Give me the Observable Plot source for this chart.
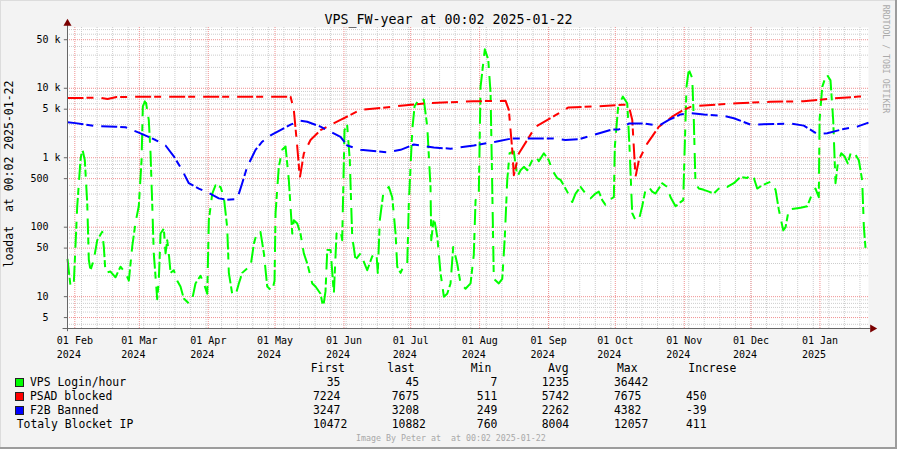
<!DOCTYPE html>
<html><head><meta charset="utf-8">
<script src="https://cdn.jsdelivr.net/npm/d3@7"></script>
<script src="https://cdn.jsdelivr.net/npm/@observablehq/plot@0.6"></script>
<style>
html,body{margin:0;padding:0;background:#f3f3f3;}
#wrap{position:relative;width:897px;height:449px;background:#f3f3f3;overflow:hidden;font-family:"DejaVu Sans Mono",monospace;box-shadow:inset -2px -2px 0 #9c9c9c, inset 1px 1px 0 #dcdcdc;}
#chart{position:absolute;left:0;top:0;}
.t{position:absolute;white-space:pre;line-height:1;color:#000;}
</style></head><body><div id="wrap"></div>
<script>
// ---------- data ----------
const title = "VPS_FW-year at 00:02 2025-01-22";
const yLabel = "loadat  at 00:02 2025-01-22";
const sideText = "RRDTOOL / TOBI OETIKER";
const footer = "Image By Peter at  at 00:02 2025-01-22";

const xStartStr = "2024-01-28T17";
const xEndStr = "2025-01-22T20";

const loginDates = ["2024-01-28T17","2024-01-30T02","2024-01-31T13","2024-02-02T02","2024-02-03T13","2024-02-04T08","2024-02-05T12","2024-02-06T14","2024-02-07T07","2024-02-08T01","2024-02-09T13","2024-02-11T02","2024-02-13T08","2024-02-14T01","2024-02-14T19","2024-02-17T01","2024-02-19T07","2024-02-21T13","2024-02-23T19","2024-02-25T07","2024-02-26T19","2024-02-28T07","2024-02-29T18","2024-03-02T00","2024-03-02T14","2024-03-03T19","2024-03-05T06","2024-03-06T01","2024-03-06T19","2024-03-07T12","2024-03-09T01","2024-03-09T18","2024-03-10T13","2024-03-12T00","2024-03-12T19","2024-03-13T13","2024-03-14T06","2024-03-15T01","2024-03-16T12","2024-03-18T01","2024-03-19T12","2024-03-21T00","2024-03-23T06","2024-03-24T19","2024-03-26T06","2024-03-28T12","2024-03-30T00","2024-03-31T13","2024-04-01T06","2024-04-02T19","2024-04-04T06","2024-04-06T12","2024-04-08T00","2024-04-09T12","2024-04-10T06","2024-04-11T18","2024-04-13T06","2024-04-14T18","2024-04-16T06","2024-04-18T12","2024-04-20T00","2024-04-21T12","2024-04-23T00","2024-04-24T12","2024-04-26T00","2024-04-27T12","2024-04-29T18","2024-04-30T19","2024-05-01T06","2024-05-02T17","2024-05-04T06","2024-05-05T18","2024-05-07T05","2024-05-08T18","2024-05-09T11","2024-05-11T00","2024-05-12T11","2024-05-13T23","2024-05-15T12","2024-05-17T18","2024-05-19T05","2024-05-21T11","2024-05-22T16","2024-05-23T17","2024-05-24T12","2024-05-26T00","2024-05-27T11","2024-05-28T16","2024-05-30T11","2024-05-31T05","2024-06-01T06","2024-06-02T11","2024-06-03T15","2024-06-04T17","2024-06-06T05","2024-06-08T11","2024-06-11T11","2024-06-13T17","2024-06-15T15","2024-06-16T05","2024-06-17T03","2024-06-18T16","2024-06-21T04","2024-06-22T17","2024-06-24T05","2024-06-24T23","2024-06-26T11","2024-06-27T22","2024-06-29T11","2024-06-30T04","2024-07-01T17","2024-07-02T18","2024-07-05T03","2024-07-06T22","2024-07-08T11","2024-07-09T22","2024-07-10T06","2024-07-11T10","2024-07-12T23","2024-07-14T10","2024-07-15T22","2024-07-17T10","2024-07-18T22","2024-07-20T03","2024-07-21T22","2024-07-23T10","2024-07-25T16","2024-07-27T22","2024-07-29T09","2024-07-30T04","2024-07-31T15","2024-08-01T10","2024-08-03T08","2024-08-04T21","2024-08-05T22","2024-08-06T16","2024-08-07T09","2024-08-09T15","2024-08-11T04","2024-08-12T08","2024-08-13T10","2024-08-14T11","2024-08-16T09","2024-08-17T22","2024-08-19T09","2024-08-20T21","2024-08-22T10","2024-08-24T16","2024-08-26T03","2024-08-27T15","2024-08-29T21","2024-09-01T03","2024-09-02T15","2024-09-04T21","2024-09-06T09","2024-09-07T20","2024-09-09T09","2024-09-11T15","2024-09-13T03","2024-09-15T09","2024-09-17T15","2024-09-19T21","2024-09-22T02","2024-09-23T14","2024-09-25T03","2024-09-26T14","2024-09-28T02","2024-09-30T08","2024-09-30T19","2024-10-02T07","2024-10-04T09","2024-10-06T09","2024-10-07T09","2024-10-08T14","2024-10-10T02","2024-10-11T14","2024-10-13T02","2024-10-14T14","2024-10-16T02","2024-10-17T14","2024-10-19T02","2024-10-22T02","2024-10-24T08","2024-10-25T20","2024-10-28T02","2024-10-30T08","2024-10-31T13","2024-11-01T03","2024-11-02T00","2024-11-03T01","2024-11-04T14","2024-11-05T07","2024-11-06T01","2024-11-07T13","2024-11-09T19","2024-11-12T01","2024-11-14T07","2024-11-17T07","2024-11-20T08","2024-11-23T07","2024-11-26T07","2024-11-29T07","2024-11-30T19","2024-12-02T07","2024-12-03T19","2024-12-06T01","2024-12-08T07","2024-12-09T19","2024-12-12T01","2024-12-13T12","2024-12-15T12","2024-12-16T13","2024-12-18T00","2024-12-20T06","2024-12-23T07","2024-12-26T07","2024-12-28T13","2024-12-30T00","2024-12-31T12","2024-12-31T20","2025-01-02T01","2025-01-03T23","2025-01-05T18","2025-01-06T23","2025-01-08T00","2025-01-09T01","2025-01-10T14","2025-01-12T01","2025-01-13T13","2025-01-15T01","2025-01-17T00","2025-01-18T12","2025-01-20T00","2025-01-20T18","2025-01-21T12","2025-01-22T06"];
const loginValues = [35,14,15.5,200,920,1360,920,220,34,24,34,65,86,52,22,23,19,27,22,17,52,117,200,920,5500,6800,3500,1160,220,42,9.2,17,81,95,42,65,42,22,24,17,14,9.4,8,9.2,15.5,20,15.5,11,126,305,400,380,270,100,22,11,10.5,15.5,22,25.5,27,58,86,85,42,14,12,17,160,740,1300,1450,480,81,126,113,81,42,30,15.5,14,11,7,12,47,47,11,81,90,65,2500,2900,920,73,34,42,24,38,42,22,126,305,380,270,81,27,22,28,30,220,2500,5500,7300,6800,2800,380,65,140,73,22,10,11,15.5,52,30,15.5,13,15.5,40,245,305,10500,36442,26000,8500,380,18,15.5,18,73,480,1160,1230,530,660,740,660,920,1050,890,1160,920,660,510,480,400,325,230,305,380,305,260,305,325,245,210,245,270,1450,5500,7600,6100,1450,160,126,126,200,345,380,325,305,430,380,270,200,230,245,1160,10500,18500,14000,3500,430,360,345,325,305,380,380,430,530,510,580,510,360,400,430,450,345,180,90,100,180,185,190,200,305,360,270,3500,10500,16000,13000,3500,430,830,1160,1050,830,1230,1100,920,470,100,50,45];

const psadDates = ["2024-01-28T17","2024-02-08T23","2024-02-12T13","2024-02-15T17","2024-02-19T18","2024-03-10T13","2024-05-08T00","2024-05-09T11","2024-05-11T00","2024-05-12T04","2024-05-13T23","2024-05-16T23","2024-05-21T11","2024-05-30T11","2024-06-08T11","2024-06-17T11","2024-06-26T11","2024-07-08T11","2024-07-29T06","2024-08-12T16","2024-08-14T03","2024-08-15T16","2024-08-16T09","2024-08-18T15","2024-08-26T03","2024-09-04T03","2024-09-09T23","2024-09-23T11","2024-10-04T03","2024-10-06T23","2024-10-08T15","2024-10-10T02","2024-10-11T14","2024-10-15T08","2024-10-20T14","2024-10-26T14","2024-10-31T19","2024-11-03T20","2024-11-07T13","2024-11-24T20","2024-12-09T19","2024-12-24T15","2025-01-05T18","2025-01-18T12","2025-01-22T20"];
const psadValues = [7224,7300,7300,7000,7500,7570,7570,4900,1450,511,1150,1800,2500,3500,4900,5200,5600,6100,6500,6600,4900,1300,560,1150,2800,4100,5300,5500,5800,5750,3500,530,920,1600,2800,3900,4900,5400,5600,6100,6400,6500,7100,7600,7675];

const f2bDates = ["2024-01-28T17","2024-02-01T07","2024-02-10T07","2024-02-19T07","2024-02-23T19","2024-02-29T18","2024-03-08T07","2024-03-12T19","2024-03-16T12","2024-03-20T07","2024-03-23T06","2024-03-27T18","2024-04-01T06","2024-04-05T18","2024-04-09T05","2024-04-14T00","2024-04-16T06","2024-04-18T12","2024-04-22T06","2024-04-25T06","2024-04-29T00","2024-05-08T00","2024-05-12T11","2024-05-15T12","2024-05-21T11","2024-05-30T11","2024-06-02T11","2024-06-08T11","2024-06-20T11","2024-06-26T11","2024-07-02T10","2024-07-11T10","2024-07-18T22","2024-07-29T09","2024-08-08T04","2024-08-15T16","2024-09-02T15","2024-09-08T15","2024-09-14T14","2024-09-20T15","2024-09-29T15","2024-10-02T14","2024-10-07T02","2024-10-14T14","2024-10-20T14","2024-10-25T02","2024-10-30T08","2024-11-03T20","2024-11-09T19","2024-11-18T19","2024-11-23T07","2024-11-30T19","2024-12-18T19","2024-12-24T18","2024-12-30T19","2025-01-04T07","2025-01-11T18","2025-01-17T18","2025-01-22T20"];
const f2bValues = [3247,3150,2850,2800,2750,2300,1800,1500,1050,660,430,360,310,260,249,255,430,740,1300,1700,2100,3000,3400,3300,2800,2000,1500,1300,1200,1300,1550,1400,1350,1500,1700,1900,1900,1800,1850,2100,2550,2550,3100,3100,2900,3500,4200,4382,4200,4000,3700,3000,3100,2900,2200,2250,2600,2800,3208];

const yMajorTicks = [5, 10, 50, 100, 500, 1000, 5000, 10000, 50000];
const yMinorTicks = [4,6,7,8,9,20,30,40,60,70,80,90,200,300,400,600,700,800,900,2000,3000,4000,6000,7000,8000,9000,20000,30000,40000,60000,70000];
const yDomain = [3.48, 75000];

const legendLabels = ["VPS Login/hour", "PSAD blocked", "F2B Banned", "Totaly Blocket IP"];
const legendColors = ["#00ff00", "#ff0000", "#0000ff", null];
const colHeaders = ["First", "last", "Min", "Avg", "Max", "Increse"];
const statFirst = [35, 7224, 3247, 10472];
const statLast = [45, 7675, 3208, 10882];
const statMin = [7, 511, 249, 760];
const statAvg = [1235, 5742, 2262, 8004];
const statMax = [36442, 7675, 4382, 12057];
const statIncrease = [null, 450, -39, 411];

// ---------- build ----------
const parse = s => new Date(s + ":00Z");
const xStart = parse(xStartStr), xEnd = parse(xEndStr);
const mk = (dates, vals, name) => dates.map((d, i) => ({date: parse(d), value: vals[i], name}));
const login = mk(loginDates, loginValues, "login");
const psad = mk(psadDates, psadValues, "psad");
const f2b = mk(f2bDates, f2bValues, "f2b");

const months = d3.utcMonth.range(xStart, xEnd);
const weeks = d3.utcSunday.range(xStart, xEnd);
const mono = "DejaVu Sans Mono";
const dash = "16,3,7,8";

const plot = Plot.plot({
  width: 897, height: 360,
  marginLeft: 67, marginRight: 29, marginTop: 27, marginBottom: 32,
  style: {background: "transparent", fontFamily: mono, fontSize: "10px", color: "#000", overflow: "visible"},
  x: {type: "utc", domain: [xStart, xEnd], axis: null},
  y: {type: "log", domain: yDomain, axis: null},
  marks: [
    Plot.frame({fill: "white", stroke: "none"}),
    Plot.ruleX(weeks, {stroke: "#cdcdcd", strokeDasharray: "1,1", strokeWidth: 1}),
    Plot.ruleY(yMinorTicks, {stroke: "#cdcdcd", strokeDasharray: "1,1", strokeWidth: 1}),
    Plot.ruleX(months, {stroke: "#f09090", strokeDasharray: "1,1", strokeWidth: 1}),
    Plot.ruleY(yMajorTicks, {stroke: "#f09090", strokeDasharray: "1,1", strokeWidth: 1}),
    Plot.line(login, {x: "date", y: "value", stroke: "#00ff00", strokeWidth: 2, strokeDasharray: dash, strokeLinecap: "butt"}),
    Plot.line(psad, {x: "date", y: "value", stroke: "#ff0000", strokeWidth: 2, strokeDasharray: dash, strokeLinecap: "butt"}),
    Plot.line(f2b, {x: "date", y: "value", stroke: "#0000ff", strokeWidth: 2, strokeDasharray: dash, strokeLinecap: "butt"}),
    Plot.ruleX([xStart], {y1: yDomain[0] * 0.9, y2: 92000, stroke: "#666", strokeWidth: 1}),
    Plot.ruleY([yDomain[0]], {x1: d3.utcDay.offset(xStart, -2), x2: d3.utcDay.offset(xEnd, 1.5), stroke: "#666", strokeWidth: 1}),
    Plot.ruleY(yMajorTicks, {x1: d3.utcHour.offset(xStart, -34), x2: xStart, stroke: "#666", strokeWidth: 1}),
    Plot.dot([0], {frameAnchor: "top-left", dy: -4, symbol: "triangle", r: 3, fill: "#7a0000", stroke: "none"}),
    Plot.dot([0], {frameAnchor: "bottom-right", dx: 4, symbol: "triangle", rotate: 90, r: 3, fill: "#7a0000", stroke: "none"}),
    Plot.text(yMajorTicks, {x: xStart, y: d => d, text: d => d >= 1000 ? (d / 1000) + " k" : d + "\u00a0\u00a0", textAnchor: "end", dx: -7, fontSize: 10, fill: "#000"}),
    Plot.text(months, {x: d => d, text: d => d3.utcFormat("%d %b\n%Y")(d), frameAnchor: "bottom", lineAnchor: "top", textAnchor: "start", dx: -18, dy: 6, lineHeight: 1.4, fontSize: 10, fill: "#000"})
  ]
});
plot.id = "chart";
const wrap = document.getElementById("wrap");
wrap.appendChild(plot);

function addText(txt, left, top, size, extra) {
  const d = document.createElement("div");
  d.className = "t";
  d.textContent = txt;
  d.style.left = left + "px";
  d.style.top = top + "px";
  d.style.fontSize = size + "px";
  if (extra) Object.assign(d.style, extra);
  wrap.appendChild(d);
  return d;
}
addText(title, 0, 12.6, 13.3, {width: "897px", textAlign: "center"});
addText(yLabel, 10, 174, 11.5, {transform: "translate(-50%,-50%) rotate(-90deg)"});
addText(sideText, 886, 59, 8.2, {transform: "translate(-50%,-50%) rotate(90deg)", color: "#aaaaaa"});
const fs = 11.4, capC = 0.48 * fs;
const rowY = i => 368 + 14 * i - capC;
const headerX = [310.7, 387.3, 470.7, 548, 617, 688.3];
colHeaders.forEach((h, j) => addText(h, headerX[j], rowY(0), fs));
const colX = [313, 391.7, 470, 541.7, 614, 686];
const cols = [statFirst, statLast, statMin, statAvg, statMax, statIncrease];
legendLabels.forEach((lab, i) => {
  const y = rowY(i + 1);
  addText(lab, legendColors[i] ? 30 : 16.7, y, fs);
  if (legendColors[i]) {
    const b = document.createElement("div");
    Object.assign(b.style, {position: "absolute", left: "15px", top: (368 + 14 * (i + 1) - 4.5) + "px", width: "9px", height: "9px", boxSizing: "border-box", border: "1px solid #222", background: legendColors[i]});
    wrap.appendChild(b);
  }
  cols.forEach((c, j) => {
    const v = c[i];
    if (v === null || v === undefined) return;
    const s = j === 5 ? String(v) : String(v).padStart(4, "\u00a0");
    addText(s, colX[j], y, fs);
  });
});
addText(footer, 356, 434, 8.3, {color: "#a8a8a8"});
</script>
</body></html>
